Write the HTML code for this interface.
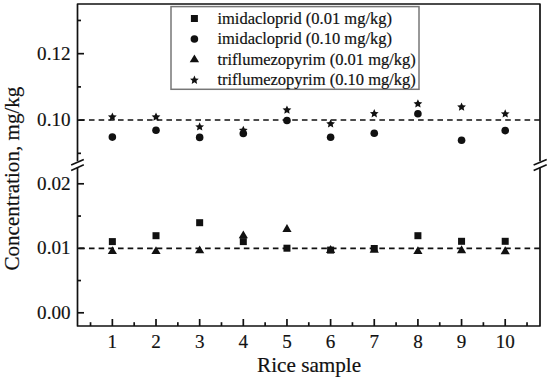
<!DOCTYPE html>
<html><head><meta charset="utf-8"><style>
html,body{margin:0;padding:0;background:#fff;}
svg{display:block;}
text{font-family:"Liberation Serif",serif;fill:#111;stroke:#111;stroke-width:0.18px;}
</style></head><body>
<svg width="550" height="382" viewBox="0 0 550 382">
<path d="M77.5,161.3 L77.5,4.0 L540.0,4.0 L540.0,161.3" fill="none" stroke="#111" stroke-width="1.7" stroke-linejoin="round"/>
<path d="M77.5,167.6 L77.5,326.0 L540.0,326.0 L540.0,167.6" fill="none" stroke="#111" stroke-width="1.7" stroke-linejoin="round"/>
<line x1="71.15" y1="165.1" x2="83.8" y2="159.4" stroke="#111" stroke-width="1.6"/>
<line x1="71.15" y1="170.4" x2="83.8" y2="164.8" stroke="#111" stroke-width="1.6"/>
<line x1="533.65" y1="165.1" x2="546.7" y2="159.4" stroke="#111" stroke-width="1.6"/>
<line x1="533.65" y1="170.4" x2="546.7" y2="164.8" stroke="#111" stroke-width="1.6"/>
<line x1="77.5" y1="120.11999999999998" x2="84.0" y2="120.11999999999998" stroke="#111" stroke-width="1.7"/>
<line x1="77.5" y1="53.68000000000003" x2="84.0" y2="53.68000000000003" stroke="#111" stroke-width="1.7"/>
<line x1="77.5" y1="153.34000000000003" x2="81.0" y2="153.34000000000003" stroke="#111" stroke-width="1.7"/>
<line x1="77.5" y1="86.9" x2="81.0" y2="86.9" stroke="#111" stroke-width="1.7"/>
<line x1="77.5" y1="20.459999999999994" x2="81.0" y2="20.459999999999994" stroke="#111" stroke-width="1.7"/>
<line x1="77.5" y1="312.8" x2="84.0" y2="312.8" stroke="#111" stroke-width="1.7"/>
<line x1="77.5" y1="248.3" x2="84.0" y2="248.3" stroke="#111" stroke-width="1.7"/>
<line x1="77.5" y1="183.8" x2="84.0" y2="183.8" stroke="#111" stroke-width="1.7"/>
<line x1="77.5" y1="280.55" x2="81.0" y2="280.55" stroke="#111" stroke-width="1.7"/>
<line x1="77.5" y1="216.05" x2="81.0" y2="216.05" stroke="#111" stroke-width="1.7"/>
<line x1="112.35999999999999" y1="326.0" x2="112.35999999999999" y2="319.0" stroke="#111" stroke-width="1.7"/>
<line x1="156.01" y1="326.0" x2="156.01" y2="319.0" stroke="#111" stroke-width="1.7"/>
<line x1="199.65999999999997" y1="326.0" x2="199.65999999999997" y2="319.0" stroke="#111" stroke-width="1.7"/>
<line x1="243.31" y1="326.0" x2="243.31" y2="319.0" stroke="#111" stroke-width="1.7"/>
<line x1="286.96" y1="326.0" x2="286.96" y2="319.0" stroke="#111" stroke-width="1.7"/>
<line x1="330.60999999999996" y1="326.0" x2="330.60999999999996" y2="319.0" stroke="#111" stroke-width="1.7"/>
<line x1="374.26" y1="326.0" x2="374.26" y2="319.0" stroke="#111" stroke-width="1.7"/>
<line x1="417.90999999999997" y1="326.0" x2="417.90999999999997" y2="319.0" stroke="#111" stroke-width="1.7"/>
<line x1="461.55999999999995" y1="326.0" x2="461.55999999999995" y2="319.0" stroke="#111" stroke-width="1.7"/>
<line x1="505.21" y1="326.0" x2="505.21" y2="319.0" stroke="#111" stroke-width="1.7"/>
<line x1="90.535" y1="326.0" x2="90.535" y2="322.2" stroke="#111" stroke-width="1.7"/>
<line x1="134.185" y1="326.0" x2="134.185" y2="322.2" stroke="#111" stroke-width="1.7"/>
<line x1="177.83499999999998" y1="326.0" x2="177.83499999999998" y2="322.2" stroke="#111" stroke-width="1.7"/>
<line x1="221.485" y1="326.0" x2="221.485" y2="322.2" stroke="#111" stroke-width="1.7"/>
<line x1="265.135" y1="326.0" x2="265.135" y2="322.2" stroke="#111" stroke-width="1.7"/>
<line x1="308.78499999999997" y1="326.0" x2="308.78499999999997" y2="322.2" stroke="#111" stroke-width="1.7"/>
<line x1="352.43499999999995" y1="326.0" x2="352.43499999999995" y2="322.2" stroke="#111" stroke-width="1.7"/>
<line x1="396.085" y1="326.0" x2="396.085" y2="322.2" stroke="#111" stroke-width="1.7"/>
<line x1="439.73499999999996" y1="326.0" x2="439.73499999999996" y2="322.2" stroke="#111" stroke-width="1.7"/>
<line x1="483.385" y1="326.0" x2="483.385" y2="322.2" stroke="#111" stroke-width="1.7"/>
<line x1="527.035" y1="326.0" x2="527.035" y2="322.2" stroke="#111" stroke-width="1.7"/>
<line x1="77.5" y1="119.95" x2="540.0" y2="119.95" stroke="#111" stroke-width="1.65" stroke-dasharray="5.6 4.08" stroke-dashoffset="7.910000000000004"/>
<line x1="77.5" y1="248.4" x2="540.0" y2="248.4" stroke="#111" stroke-width="1.65" stroke-dasharray="5.6 4.08" stroke-dashoffset="7.910000000000004"/>
<text x="70.5" y="59.68000000000003" text-anchor="end" font-size="19.1">0.12</text>
<text x="70.5" y="126.11999999999998" text-anchor="end" font-size="19.1">0.10</text>
<text x="70.5" y="189.8" text-anchor="end" font-size="19.1">0.02</text>
<text x="70.5" y="254.3" text-anchor="end" font-size="19.1">0.01</text>
<text x="70.5" y="318.8" text-anchor="end" font-size="19.1">0.00</text>
<text x="112.35999999999999" y="347.6" text-anchor="middle" font-size="19.1">1</text>
<text x="156.01" y="347.6" text-anchor="middle" font-size="19.1">2</text>
<text x="199.65999999999997" y="347.6" text-anchor="middle" font-size="19.1">3</text>
<text x="243.31" y="347.6" text-anchor="middle" font-size="19.1">4</text>
<text x="286.96" y="347.6" text-anchor="middle" font-size="19.1">5</text>
<text x="330.60999999999996" y="347.6" text-anchor="middle" font-size="19.1">6</text>
<text x="374.26" y="347.6" text-anchor="middle" font-size="19.1">7</text>
<text x="417.90999999999997" y="347.6" text-anchor="middle" font-size="19.1">8</text>
<text x="461.55999999999995" y="347.6" text-anchor="middle" font-size="19.1">9</text>
<text x="505.21" y="347.6" text-anchor="middle" font-size="19.1">10</text>
<text x="309.1" y="372.0" text-anchor="middle" font-size="21.2">Rice sample</text>
<text transform="translate(18.9,178.6) rotate(-90)" x="0" y="0" text-anchor="middle" font-size="21.1">Concentration, mg/kg</text>
<circle cx="112.35999999999999" cy="137.1" r="3.8" fill="#111"/>
<polygon points="112.36,112.40 113.63,115.25 116.73,115.58 114.42,117.67 115.06,120.72 112.36,119.16 109.66,120.72 110.30,117.67 107.99,115.58 111.09,115.25" fill="#111"/>
<rect x="108.85999999999999" y="238.1" width="7.0" height="7.0" fill="#111"/>
<path d="M112.35999999999999,246.2 L116.95999999999998,254.1 L107.75999999999999,254.1Z" fill="#111"/>
<circle cx="156.01" cy="130.3" r="3.8" fill="#111"/>
<polygon points="156.01,112.40 157.28,115.25 160.38,115.58 158.07,117.67 158.71,120.72 156.01,119.16 153.31,120.72 153.95,117.67 151.64,115.58 154.74,115.25" fill="#111"/>
<rect x="152.51" y="232.2" width="7.0" height="7.0" fill="#111"/>
<path d="M156.01,246.2 L160.60999999999999,254.1 L151.41,254.1Z" fill="#111"/>
<circle cx="199.65999999999997" cy="137.4" r="3.8" fill="#111"/>
<polygon points="199.66,122.30 200.93,125.15 204.03,125.48 201.72,127.57 202.36,130.62 199.66,129.06 196.96,130.62 197.60,127.57 195.29,125.48 198.39,125.15" fill="#111"/>
<rect x="196.15999999999997" y="219.2" width="7.0" height="7.0" fill="#111"/>
<path d="M199.65999999999997,245.4 L204.25999999999996,253.3 L195.05999999999997,253.3Z" fill="#111"/>
<circle cx="243.31" cy="133.5" r="3.8" fill="#111"/>
<polygon points="243.31,125.70 244.58,128.55 247.68,128.88 245.37,130.97 246.01,134.02 243.31,132.46 240.61,134.02 241.25,130.97 238.94,128.88 242.04,128.55" fill="#111"/>
<rect x="239.81" y="238.1" width="7.0" height="7.0" fill="#111"/>
<path d="M243.31,230.4 L247.91,238.3 L238.71,238.3Z" fill="#111"/>
<circle cx="286.96" cy="120.5" r="3.8" fill="#111"/>
<polygon points="286.96,105.40 288.23,108.25 291.33,108.58 289.02,110.67 289.66,113.72 286.96,112.16 284.26,113.72 284.90,110.67 282.59,108.58 285.69,108.25" fill="#111"/>
<rect x="283.46" y="244.7" width="7.0" height="7.0" fill="#111"/>
<path d="M286.96,224.1 L291.56,232.0 L282.35999999999996,232.0Z" fill="#111"/>
<circle cx="330.60999999999996" cy="137.2" r="3.8" fill="#111"/>
<polygon points="330.61,119.20 331.88,122.05 334.98,122.38 332.67,124.47 333.31,127.52 330.61,125.96 327.91,127.52 328.55,124.47 326.24,122.38 329.34,122.05" fill="#111"/>
<rect x="327.10999999999996" y="246.6" width="7.0" height="7.0" fill="#111"/>
<path d="M330.60999999999996,245.0 L335.21,252.9 L326.00999999999993,252.9Z" fill="#111"/>
<circle cx="374.26" cy="133.3" r="3.8" fill="#111"/>
<polygon points="374.26,109.10 375.53,111.95 378.63,112.28 376.32,114.37 376.96,117.42 374.26,115.86 371.56,117.42 372.20,114.37 369.89,112.28 372.99,111.95" fill="#111"/>
<rect x="370.76" y="245.0" width="7.0" height="7.0" fill="#111"/>
<path d="M374.26,244.8 L378.86,252.70000000000002 L369.65999999999997,252.70000000000002Z" fill="#111"/>
<circle cx="417.90999999999997" cy="113.7" r="3.8" fill="#111"/>
<polygon points="417.91,99.20 419.18,102.05 422.28,102.38 419.97,104.47 420.61,107.52 417.91,105.96 415.21,107.52 415.85,104.47 413.54,102.38 416.64,102.05" fill="#111"/>
<rect x="414.40999999999997" y="232.2" width="7.0" height="7.0" fill="#111"/>
<path d="M417.90999999999997,246.2 L422.51,254.1 L413.30999999999995,254.1Z" fill="#111"/>
<circle cx="461.55999999999995" cy="140.3" r="3.8" fill="#111"/>
<polygon points="461.56,102.40 462.83,105.25 465.93,105.58 463.62,107.67 464.26,110.72 461.56,109.16 458.86,110.72 459.50,107.67 457.19,105.58 460.29,105.25" fill="#111"/>
<rect x="458.05999999999995" y="237.8" width="7.0" height="7.0" fill="#111"/>
<path d="M461.55999999999995,245.3 L466.15999999999997,253.20000000000002 L456.9599999999999,253.20000000000002Z" fill="#111"/>
<circle cx="505.21" cy="130.6" r="3.8" fill="#111"/>
<polygon points="505.21,109.30 506.48,112.15 509.58,112.48 507.27,114.57 507.91,117.62 505.21,116.06 502.51,117.62 503.15,114.57 500.84,112.48 503.94,112.15" fill="#111"/>
<rect x="501.71" y="237.8" width="7.0" height="7.0" fill="#111"/>
<path d="M505.21,246.3 L509.81,254.20000000000002 L500.60999999999996,254.20000000000002Z" fill="#111"/>
<rect x="171" y="6.6" width="248" height="82.7" fill="#fff" stroke="#777" stroke-width="1.5"/>
<rect x="190.9" y="15.0" width="7.0" height="7.0" fill="#111"/>
<circle cx="194.4" cy="39" r="3.8" fill="#111"/>
<path d="M194.4,54.6 L199.1,62.2 L189.70000000000002,62.2Z" fill="#111"/>
<polygon points="194.40,75.60 195.67,78.45 198.77,78.78 196.46,80.87 197.10,83.92 194.40,82.36 191.70,83.92 192.34,80.87 190.03,78.78 193.13,78.45" fill="#111"/>
<text x="217.4" y="24.0" font-size="16.5">imidacloprid (0.01 mg/kg)</text>
<text x="217.4" y="44.25" font-size="16.5">imidacloprid (0.10 mg/kg)</text>
<text x="217.4" y="64.5" font-size="16.5">triflumezopyrim (0.01 mg/kg)</text>
<text x="217.4" y="84.75" font-size="16.5">triflumezopyrim (0.10 mg/kg)</text>
</svg>
</body></html>
